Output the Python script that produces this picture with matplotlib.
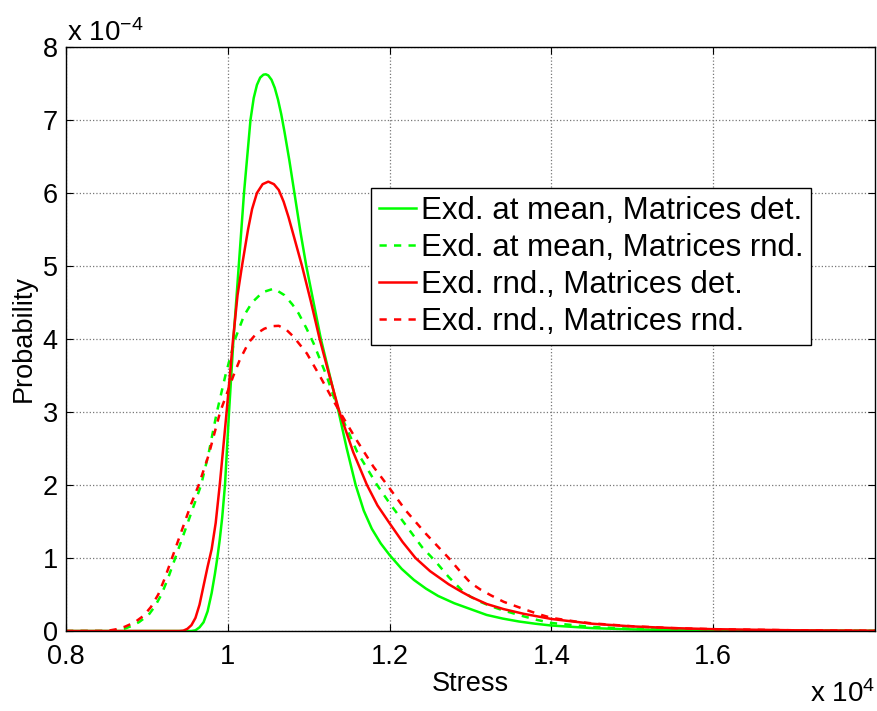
import numpy as np
import matplotlib
matplotlib.use('Agg')
import matplotlib.pyplot as plt
from matplotlib.ticker import FuncFormatter

plt.rcParams['font.family'] = ['Liberation Sans', 'DejaVu Sans']
plt.rcParams['mathtext.fontset'] = 'custom'
plt.rcParams['mathtext.rm'] = 'Liberation Sans'
plt.rcParams['mathtext.default'] = 'regular'

# Stress in units of 1e4, probability in units of 1e-4
# Exd. at mean, Matrices det.
gs_x = [0.800, 0.955, 0.960, 0.965, 0.970, 0.975, 0.980, 0.984, 0.987, 0.990, 0.993,
        0.9965, 1.0015, 1.007, 1.0135, 1.020, 1.024, 1.028, 1.032, 1.036, 1.040, 1.044,
        1.047, 1.050, 1.054, 1.058, 1.062, 1.066, 1.070, 1.076, 1.083, 1.090, 1.097,
        1.106, 1.115, 1.126, 1.137, 1.147, 1.158, 1.168, 1.178, 1.189, 1.200, 1.215,
        1.230, 1.245, 1.260, 1.280, 1.300, 1.320, 1.340, 1.360, 1.380, 1.400, 1.450,
        1.500, 1.550, 1.600, 1.700, 1.800]
gs_y = [0.0, 0.0, 0.01, 0.05, 0.12, 0.27, 0.52, 0.78, 1.00, 1.25, 1.55,
        2.00, 3.00, 4.00, 5.00, 6.00, 6.50, 7.00, 7.30, 7.48, 7.58, 7.62,
        7.625, 7.61, 7.55, 7.44, 7.28, 7.08, 6.84, 6.45, 5.95, 5.45, 5.00,
        4.50, 4.00, 3.50, 3.00, 2.50, 2.00, 1.65, 1.40, 1.20, 1.04, 0.85,
        0.70, 0.58, 0.48, 0.38, 0.30, 0.22, 0.17, 0.13, 0.10, 0.075, 0.04,
        0.022, 0.014, 0.009, 0.004, 0.002]

# Exd. at mean, Matrices rnd.
gd_x = [0.800, 0.855, 0.865, 0.872, 0.879, 0.890, 0.902, 0.910, 0.918, 0.926, 0.935,
        0.943, 0.951, 0.959, 0.967, 0.976, 0.9865, 0.997, 1.009, 1.020, 1.030, 1.043,
        1.057, 1.070, 1.080, 1.0875, 1.097, 1.106, 1.1226, 1.1308, 1.138, 1.160, 1.1845,
        1.200, 1.220, 1.240, 1.257, 1.273, 1.290, 1.300, 1.312, 1.325, 1.341, 1.366,
        1.383, 1.400, 1.450, 1.500, 1.550, 1.600, 1.700, 1.800]
gd_y = [0.0, 0.0, 0.015, 0.03, 0.06, 0.12, 0.22, 0.34, 0.50, 0.72, 1.00,
        1.25, 1.50, 1.75, 2.00, 2.42, 3.00, 3.50, 4.00, 4.32, 4.50, 4.64,
        4.69, 4.60, 4.47, 4.35, 4.15, 3.94, 3.48, 3.21, 3.00, 2.45, 2.00,
        1.75, 1.45, 1.15, 0.95, 0.74, 0.55, 0.47, 0.40, 0.34, 0.28, 0.20,
        0.15, 0.11, 0.055, 0.03, 0.018, 0.011, 0.004, 0.002]

# Exd. rnd., Matrices det.
rs_x = [0.800, 0.940, 0.945, 0.950, 0.955, 0.960, 0.965, 0.970, 0.975, 0.980, 0.985,
        0.990, 0.9985, 1.0065, 1.012, 1.0175, 1.025, 1.030, 1.036, 1.043, 1.050, 1.057,
        1.063, 1.069, 1.075, 1.082, 1.0917, 1.1025, 1.1135, 1.126, 1.138, 1.155, 1.172,
        1.185, 1.200, 1.216, 1.232, 1.250, 1.273, 1.290, 1.300, 1.320, 1.341, 1.366,
        1.383, 1.400, 1.450, 1.500, 1.550, 1.600, 1.700, 1.800]
rs_y = [0.0, 0.0, 0.005, 0.03, 0.08, 0.18, 0.36, 0.62, 0.88, 1.12, 1.48,
        2.00, 3.00, 4.00, 4.60, 5.00, 5.50, 5.78, 6.00, 6.12, 6.155, 6.12,
        6.04, 5.88, 5.67, 5.39, 5.00, 4.52, 4.00, 3.48, 3.00, 2.45, 2.00,
        1.72, 1.475, 1.22, 1.00, 0.82, 0.64, 0.53, 0.47, 0.37, 0.30, 0.235,
        0.20, 0.165, 0.10, 0.063, 0.04, 0.025, 0.010, 0.004]

# Exd. rnd., Matrices rnd.
rd_x = [0.800, 0.845, 0.855, 0.865, 0.873, 0.885, 0.896, 0.905, 0.914, 0.922, 0.931,
        0.939, 0.947, 0.955, 0.964, 0.976, 0.9905, 1.007, 1.015, 1.0257, 1.035, 1.045,
        1.054, 1.063, 1.072, 1.0813, 1.0978, 1.1144, 1.1267, 1.1385, 1.160, 1.180, 1.197,
        1.220, 1.245, 1.273, 1.290, 1.300, 1.312, 1.325, 1.341, 1.366, 1.383, 1.400,
        1.430, 1.450, 1.500, 1.550, 1.600, 1.700, 1.800]
rd_y = [0.0, 0.0, 0.01, 0.03, 0.06, 0.12, 0.21, 0.33, 0.50, 0.72, 1.00,
        1.25, 1.50, 1.75, 2.00, 2.40, 3.00, 3.50, 3.72, 3.95, 4.07, 4.14,
        4.175, 4.18, 4.13, 4.03, 3.80, 3.48, 3.23, 3.00, 2.60, 2.25, 2.00,
        1.65, 1.33, 1.00, 0.78, 0.66, 0.57, 0.49, 0.40, 0.30, 0.235, 0.18,
        0.13, 0.105, 0.065, 0.04, 0.025, 0.010, 0.004]

labels = ['Exd. at mean, Matrices det.', 'Exd. at mean, Matrices rnd.',
          'Exd. rnd., Matrices det.', 'Exd. rnd., Matrices rnd.']

fig = plt.figure(figsize=(8.77, 7.11), dpi=100)
ax = fig.add_axes([0.0753, 0.1125, 0.9224, 0.8215])

lw = 1.8
dash = (2.9, 2.9)
ax.plot(gs_x, gs_y, color=(0, 1, 0), lw=lw, label=labels[0])
ax.plot(gd_x, gd_y, color=(0, 1, 0), lw=lw, ls='--', dashes=dash, label=labels[1])
ax.plot(rs_x, rs_y, color=(1, 0, 0), lw=lw, label=labels[2])
ax.plot(rd_x, rd_y, color=(1, 0, 0), lw=lw, ls='--', dashes=dash, label=labels[3])

ax.set_xlim(0.8, 1.8)
ax.set_ylim(0, 8)
ax.set_xticks([0.8, 1.0, 1.2, 1.4, 1.6])
ax.set_yticks(range(0, 9))
ax.xaxis.set_major_formatter(FuncFormatter(lambda v, p: '%g' % v))
ax.tick_params(direction='in', top=True, right=True, labelsize=19.5, length=5,
               width=0.8)
ax.tick_params(axis='x', pad=9)
ax.tick_params(axis='y', pad=6)
ax.grid(True, ls=':', color='#777777', lw=0.9)
for s in ax.spines.values():
    s.set_linewidth(1.0)

ax.set_xlabel('Stress', fontsize=19.5, labelpad=1)
ax.set_ylabel('Probability', fontsize=19.5, labelpad=4)

fig.text(67 / 877, 1 - 41 / 711, r'x 10$^{-4}$', fontsize=20, va='baseline', ha='left')
fig.text(875 / 877, 1 - 702 / 711, r'x 10$^{4}$', fontsize=20, va='baseline', ha='right')

leg = ax.legend(loc='upper left', bbox_to_anchor=(0.377, 0.758), fontsize=22.5,
                fancybox=False, framealpha=1, edgecolor='black', handlelength=1.2,
                handletextpad=0.15, borderpad=0.25, labelspacing=0.22, borderaxespad=0)
leg.get_frame().set_linewidth(1.0)

fig.savefig('out.png', dpi=100)
